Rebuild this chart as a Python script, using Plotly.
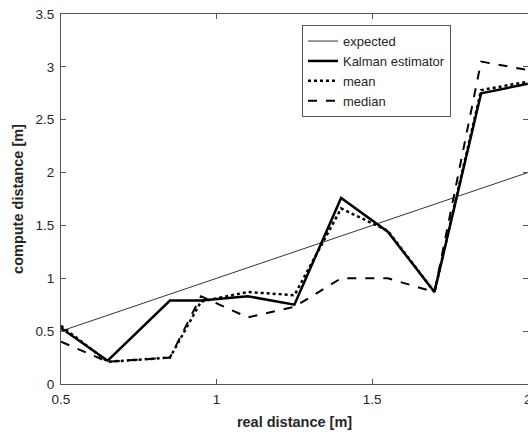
import plotly.graph_objects as go

x = [0.5, 0.65, 0.85, 0.95, 1.1, 1.25, 1.4, 1.55, 1.7, 1.85, 2.0]
expected = [0.5, 0.65, 0.85, 0.95, 1.1, 1.25, 1.4, 1.55, 1.7, 1.85, 2.0]
kalman = [0.53, 0.22, 0.79, 0.79, 0.83, 0.75, 1.76, 1.44, 0.87, 2.75, 2.84]
mean = [0.55, 0.21, 0.25, 0.78, 0.87, 0.84, 1.66, 1.45, 0.87, 2.78, 2.86]
median = [0.40, 0.21, 0.25, 0.83, 0.63, 0.73, 1.00, 1.00, 0.87, 3.05, 2.97]

xticks = [0.5, 1, 1.5, 2]
yticks = [0, 0.5, 1, 1.5, 2, 2.5, 3, 3.5]

FONT = "Liberation Sans, Arial, Helvetica"

fig = go.Figure()
fig.add_trace(go.Scatter(x=x, y=expected, mode="lines", name="expected",
                         line=dict(color="black", width=0.8)))
fig.add_trace(go.Scatter(x=x, y=kalman, mode="lines", name="Kalman estimator",
                         line=dict(color="black", width=2.5)))
fig.add_trace(go.Scatter(x=x, y=mean, mode="lines", name="mean",
                         line=dict(color="black", width=2.5, dash="dot")))
fig.add_trace(go.Scatter(x=x, y=median, mode="lines", name="median",
                         line=dict(color="black", width=2, dash="dash")))

axis_common = dict(showgrid=False, zeroline=False, showline=True, linecolor="#555555",
                   linewidth=1, mirror="ticks", ticks="inside", ticklen=5,
                   tickcolor="#555555", ticklabelstandoff=3, automargin=False,
                   tickfont=dict(family=FONT, size=13.5, color="#262626"))

fig.update_layout(
    width=528, height=437,
    margin=dict(l=61, r=0, t=14, b=53, autoexpand=False),
    plot_bgcolor="white", paper_bgcolor="white",
    xaxis=dict(range=[0.5, 2.0006], tickvals=xticks, ticktext=[("%g" % v) for v in xticks],
               ticklabeloverflow="allow",
               title=dict(text="<b>real distance [m]</b>", standoff=10,
                          font=dict(family=FONT, size=14.5, color="#262626")),
               **axis_common),
    yaxis=dict(range=[0, 3.5], tickvals=yticks, ticktext=[("%g" % v) for v in yticks],
               title=dict(text="<b>compute distance [m]</b>", standoff=8,
                          font=dict(family=FONT, size=14.5, color="#262626")),
               **axis_common),
    legend=dict(x=0.516, y=0.97, xanchor="left", yanchor="top",
                bordercolor="#555555", borderwidth=1, bgcolor="white",
                font=dict(family=FONT, size=13, color="#262626"),
                tracegroupgap=0, itemwidth=30),
    showlegend=True,
)

fig.write_html("out.html")
